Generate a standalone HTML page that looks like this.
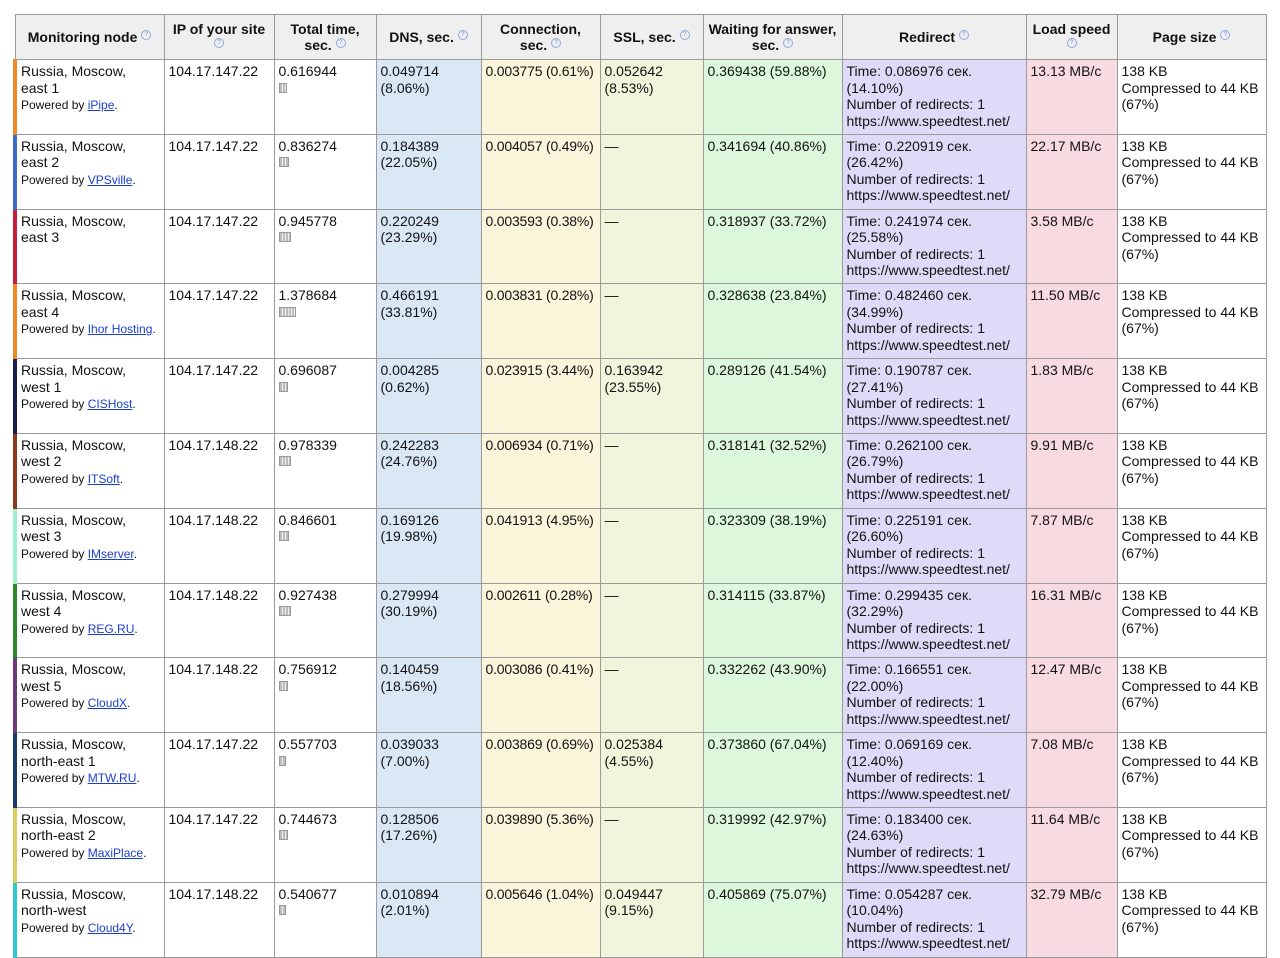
<!DOCTYPE html>
<html><head><meta charset="utf-8"><style>
body{margin:0;background:#fff;font-family:"Liberation Sans",Arial,sans-serif;}
table{position:absolute;left:13px;top:14px;border-collapse:collapse;table-layout:fixed;font-size:14px;color:#111;}
th,td{border:1px solid #9a9a9a;vertical-align:top;padding:3px 3px 3px 4px;line-height:16.5px;overflow:hidden;}
th{background:#efefef;font-weight:bold;text-align:center;vertical-align:middle;height:40px;padding:2px 3px;font-size:14px;}
td{height:67.8px;}
.q{display:inline-block;width:8px;height:8px;border:1px solid #8fa7e0;border-radius:50%;font-size:6px;line-height:8px;color:#6f8fd8;vertical-align:super;font-weight:normal;text-align:center;}
.p{font-size:12px;}
.p a{color:#1a3fd0;text-decoration:underline;}
.bar{display:inline-block;height:10px;background:#ccc;border:1px solid #999;margin-top:2px;box-sizing:border-box;background-image:repeating-linear-gradient(90deg,#bbb 0 2px,#eee 2px 3px);}
.dns{background:#dae8f6;}.con{background:#fbf5dc;white-space:nowrap;letter-spacing:-0.2px;}.ssl{background:#f1f5dc;}.wait{background:#dcf7db;white-space:nowrap;}.red{background:#dedaf7;white-space:nowrap;}.ld{background:#f7dbe0;}
</style></head><body>
<table>
<colgroup><col style="width:149px"><col style="width:110px"><col style="width:102px"><col style="width:105px"><col style="width:119px"><col style="width:103px"><col style="width:139px"><col style="width:184px"><col style="width:91px"><col style="width:149px"></colgroup>
<tr><th>Monitoring node <span class="q">?</span></th><th>IP of your site<br><span class="q">?</span></th><th>Total time,<br>sec. <span class="q">?</span></th><th>DNS, sec. <span class="q">?</span></th><th>Connection,<br>sec. <span class="q">?</span></th><th>SSL, sec. <span class="q">?</span></th><th>Waiting for answer,<br>sec. <span class="q">?</span></th><th>Redirect <span class="q">?</span></th><th>Load speed<br><span class="q">?</span></th><th>Page size <span class="q">?</span></th></tr>
<tr><td style="border-left:4px solid #f08a24">Russia, Moscow,<br>east 1<br><span class="p">Powered by <a>iPipe</a>.</span></td><td>104.17.147.22</td><td>0.616944<br><span class="bar" style="width:8px"></span></td><td class="dns">0.049714<br>(8.06%)</td><td class="con">0.003775 (0.61%)</td><td class="ssl">0.052642<br>(8.53%)</td><td class="wait">0.369438 (59.88%)</td><td class="red">Time: 0.086976 сек.<br>(14.10%)<br>Number of redirects: 1<br>https://www.speedtest.net/</td><td class="ld">13.13 MB/c</td><td>138 KB<br>Compressed to 44 KB<br>(67%)</td></tr>
<tr><td style="border-left:4px solid #3a6fc4">Russia, Moscow,<br>east 2<br><span class="p">Powered by <a>VPSville</a>.</span></td><td>104.17.147.22</td><td>0.836274<br><span class="bar" style="width:10px"></span></td><td class="dns">0.184389<br>(22.05%)</td><td class="con">0.004057 (0.49%)</td><td class="ssl">—</td><td class="wait">0.341694 (40.86%)</td><td class="red">Time: 0.220919 сек.<br>(26.42%)<br>Number of redirects: 1<br>https://www.speedtest.net/</td><td class="ld">22.17 MB/c</td><td>138 KB<br>Compressed to 44 KB<br>(67%)</td></tr>
<tr><td style="border-left:4px solid #c8203c">Russia, Moscow,<br>east 3</td><td>104.17.147.22</td><td>0.945778<br><span class="bar" style="width:12px"></span></td><td class="dns">0.220249<br>(23.29%)</td><td class="con">0.003593 (0.38%)</td><td class="ssl">—</td><td class="wait">0.318937 (33.72%)</td><td class="red">Time: 0.241974 сек.<br>(25.58%)<br>Number of redirects: 1<br>https://www.speedtest.net/</td><td class="ld">3.58 MB/c</td><td>138 KB<br>Compressed to 44 KB<br>(67%)</td></tr>
<tr><td style="border-left:4px solid #f08a24">Russia, Moscow,<br>east 4<br><span class="p">Powered by <a>Ihor Hosting</a>.</span></td><td>104.17.147.22</td><td>1.378684<br><span class="bar" style="width:17px"></span></td><td class="dns">0.466191<br>(33.81%)</td><td class="con">0.003831 (0.28%)</td><td class="ssl">—</td><td class="wait">0.328638 (23.84%)</td><td class="red">Time: 0.482460 сек.<br>(34.99%)<br>Number of redirects: 1<br>https://www.speedtest.net/</td><td class="ld">11.50 MB/c</td><td>138 KB<br>Compressed to 44 KB<br>(67%)</td></tr>
<tr><td style="border-left:4px solid #1a1f4a">Russia, Moscow,<br>west 1<br><span class="p">Powered by <a>CISHost</a>.</span></td><td>104.17.147.22</td><td>0.696087<br><span class="bar" style="width:9px"></span></td><td class="dns">0.004285<br>(0.62%)</td><td class="con">0.023915 (3.44%)</td><td class="ssl">0.163942<br>(23.55%)</td><td class="wait">0.289126 (41.54%)</td><td class="red">Time: 0.190787 сек.<br>(27.41%)<br>Number of redirects: 1<br>https://www.speedtest.net/</td><td class="ld">1.83 MB/c</td><td>138 KB<br>Compressed to 44 KB<br>(67%)</td></tr>
<tr><td style="border-left:4px solid #8a3a1c">Russia, Moscow,<br>west 2<br><span class="p">Powered by <a>ITSoft</a>.</span></td><td>104.17.148.22</td><td>0.978339<br><span class="bar" style="width:12px"></span></td><td class="dns">0.242283<br>(24.76%)</td><td class="con">0.006934 (0.71%)</td><td class="ssl">—</td><td class="wait">0.318141 (32.52%)</td><td class="red">Time: 0.262100 сек.<br>(26.79%)<br>Number of redirects: 1<br>https://www.speedtest.net/</td><td class="ld">9.91 MB/c</td><td>138 KB<br>Compressed to 44 KB<br>(67%)</td></tr>
<tr><td style="border-left:4px solid #9ff0cc">Russia, Moscow,<br>west 3<br><span class="p">Powered by <a>IMserver</a>.</span></td><td>104.17.148.22</td><td>0.846601<br><span class="bar" style="width:10px"></span></td><td class="dns">0.169126<br>(19.98%)</td><td class="con">0.041913 (4.95%)</td><td class="ssl">—</td><td class="wait">0.323309 (38.19%)</td><td class="red">Time: 0.225191 сек.<br>(26.60%)<br>Number of redirects: 1<br>https://www.speedtest.net/</td><td class="ld">7.87 MB/c</td><td>138 KB<br>Compressed to 44 KB<br>(67%)</td></tr>
<tr><td style="border-left:4px solid #2a8a2a">Russia, Moscow,<br>west 4<br><span class="p">Powered by <a>REG.RU</a>.</span></td><td>104.17.148.22</td><td>0.927438<br><span class="bar" style="width:12px"></span></td><td class="dns">0.279994<br>(30.19%)</td><td class="con">0.002611 (0.28%)</td><td class="ssl">—</td><td class="wait">0.314115 (33.87%)</td><td class="red">Time: 0.299435 сек.<br>(32.29%)<br>Number of redirects: 1<br>https://www.speedtest.net/</td><td class="ld">16.31 MB/c</td><td>138 KB<br>Compressed to 44 KB<br>(67%)</td></tr>
<tr><td style="border-left:4px solid #6a3a7a">Russia, Moscow,<br>west 5<br><span class="p">Powered by <a>CloudX</a>.</span></td><td>104.17.148.22</td><td>0.756912<br><span class="bar" style="width:9px"></span></td><td class="dns">0.140459<br>(18.56%)</td><td class="con">0.003086 (0.41%)</td><td class="ssl">—</td><td class="wait">0.332262 (43.90%)</td><td class="red">Time: 0.166551 сек.<br>(22.00%)<br>Number of redirects: 1<br>https://www.speedtest.net/</td><td class="ld">12.47 MB/c</td><td>138 KB<br>Compressed to 44 KB<br>(67%)</td></tr>
<tr><td style="border-left:4px solid #1a3a6a">Russia, Moscow,<br>north-east 1<br><span class="p">Powered by <a>MTW.RU</a>.</span></td><td>104.17.147.22</td><td>0.557703<br><span class="bar" style="width:7px"></span></td><td class="dns">0.039033<br>(7.00%)</td><td class="con">0.003869 (0.69%)</td><td class="ssl">0.025384<br>(4.55%)</td><td class="wait">0.373860 (67.04%)</td><td class="red">Time: 0.069169 сек.<br>(12.40%)<br>Number of redirects: 1<br>https://www.speedtest.net/</td><td class="ld">7.08 MB/c</td><td>138 KB<br>Compressed to 44 KB<br>(67%)</td></tr>
<tr><td style="border-left:4px solid #d8d060">Russia, Moscow,<br>north-east 2<br><span class="p">Powered by <a>MaxiPlace</a>.</span></td><td>104.17.147.22</td><td>0.744673<br><span class="bar" style="width:9px"></span></td><td class="dns">0.128506<br>(17.26%)</td><td class="con">0.039890 (5.36%)</td><td class="ssl">—</td><td class="wait">0.319992 (42.97%)</td><td class="red">Time: 0.183400 сек.<br>(24.63%)<br>Number of redirects: 1<br>https://www.speedtest.net/</td><td class="ld">11.64 MB/c</td><td>138 KB<br>Compressed to 44 KB<br>(67%)</td></tr>
<tr><td style="border-left:4px solid #30c8c8">Russia, Moscow,<br>north-west<br><span class="p">Powered by <a>Cloud4Y</a>.</span></td><td>104.17.148.22</td><td>0.540677<br><span class="bar" style="width:7px"></span></td><td class="dns">0.010894<br>(2.01%)</td><td class="con">0.005646 (1.04%)</td><td class="ssl">0.049447<br>(9.15%)</td><td class="wait">0.405869 (75.07%)</td><td class="red">Time: 0.054287 сек.<br>(10.04%)<br>Number of redirects: 1<br>https://www.speedtest.net/</td><td class="ld">32.79 MB/c</td><td>138 KB<br>Compressed to 44 KB<br>(67%)</td></tr>
</table>
</body></html>
